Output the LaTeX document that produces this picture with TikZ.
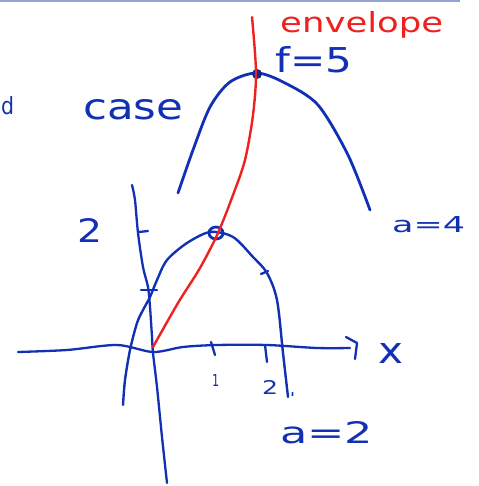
\documentclass[tikz,border=0pt]{standalone}
\usepackage{fontspec}
\setmainfont{DejaVu Sans}
\definecolor{inkblue}{RGB}{18,48,180}
\definecolor{inkred}{RGB}{238,32,32}
\definecolor{rulecol}{RGB}{150,160,215}
\newcommand{\hw}[3]{\resizebox{#1pt}{#2pt}{#3}}
\begin{document}
\begin{tikzpicture}[x=1pt,y=-1pt,
  bluecurve/.style={draw=inkblue,line width=2.8pt,line cap=round,line join=round},
  axisline/.style={draw=inkblue,line width=2.3pt,line cap=round,line join=round},
  redcurve/.style={draw=inkred,line width=2.4pt,line cap=round},
  bluelabel/.style={text=inkblue,inner sep=0pt,anchor=base west},
  redlabel/.style={text=inkred,inner sep=0pt,anchor=base west}]
\useasboundingbox (0,0) rectangle (478,486);
% top rule
\draw[draw=rulecol,line width=2pt] (0,1) -- (460,1);
% x axis
\draw[axisline] plot[smooth] coordinates {(18,352) (67,350) (117,345) (153,352) (183,347) (217,345) (267,345) (317,348) (350,348)};
\draw[axisline] (346,337) -- (357,343) -- (355,359);
\draw[axisline] (211,342) -- (215,355);
\draw[axisline] (265,345) -- (267,362);
% y axis
\draw[axisline] plot[smooth] coordinates {(132,185) (135,200) (138,233) (143,267) (148,287) (150,307) (152,337) (153,353) (157,387) (162,437) (167,483)};
\draw[axisline] (139,232) -- (148,231);
\draw[axisline] (141,290) -- (157,290);
% a=4 parabola
\draw[bluecurve] plot[smooth] coordinates {(178,193) (193,150) (210,107) (230,82) (257,73) (285,83) (318,105) (348,155) (370,210)};
\fill[inkblue!80!black] (257,74) circle (5pt);
% a=2 parabola
\draw[bluecurve,line width=2.4pt] plot[smooth] coordinates {(123,405) (125,380) (130,350) (137,323) (143,310) (150,297) (157,280) (167,260) (187,243) (210,232) (233,237) (253,257) (267,273) (277,300) (283,353) (288,397)};
\draw[axisline] (261,274) -- (268,271);
\draw[draw=inkblue,line width=2.8pt] (216,233) ellipse (7pt and 6pt);
% envelope
\draw[redcurve] plot[smooth] coordinates {(252,17) (256,72) (253,115) (245,160) (233,195) (218,233) (200,268) (178,303) (153,347)};
% labels
\node[redlabel] (envl) at (280,33) {\hw{163}{21}{envelope}};
\node[bluelabel] (fval) at (275,73) {\hw{77}{26}{f=5}};
\node[bluelabel] (casel) at (83,120) {\hw{100}{20}{case}};
\node[bluelabel] (dfrag) at (1,115) {\hw{13}{18}{d}};
\node[bluelabel] (ytwo) at (77,242) {\hw{25}{24}{2}};
\node[bluelabel] (afour) at (392,232) {\hw{73}{16}{a=4}};
\node[bluelabel] (xl) at (378,363) {\hw{25}{20}{x}};
\node[bluelabel] (xone) at (212,386) {\hw{7}{12}{1}};
\node[bluelabel] (xtwo) at (262,394) {\hw{16}{14}{2}};
\node[bluelabel] (xdot) at (290,396) {\hw{5}{4}{.}};
\node[bluelabel] (atwo) at (280,443) {\hw{93}{22}{a=2}};
\end{tikzpicture}
\end{document}
